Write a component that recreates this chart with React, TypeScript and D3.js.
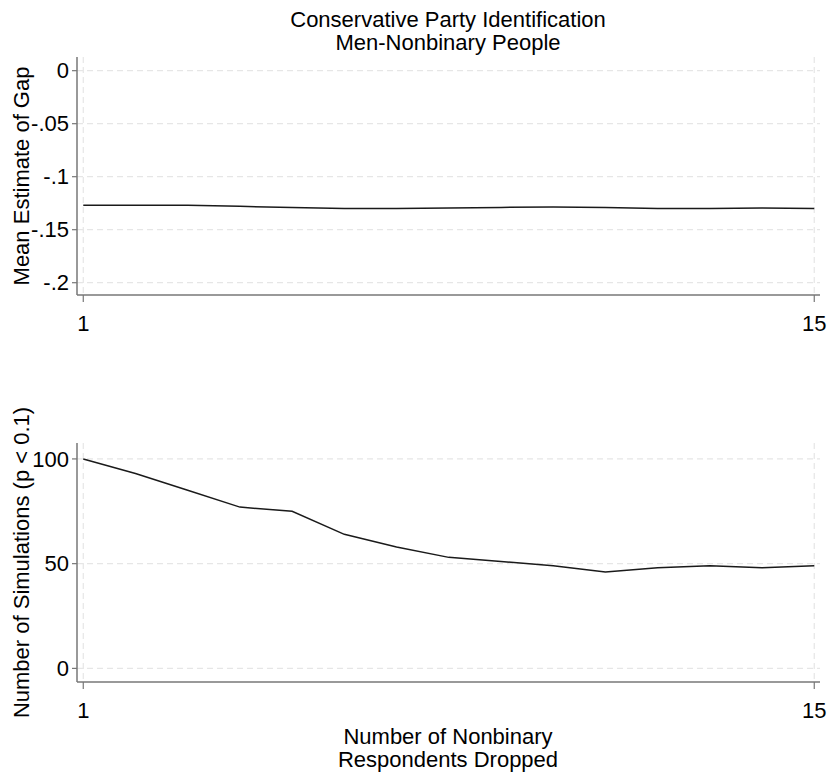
import React from "react";
import * as d3 from "d3";

// Number of nonbinary respondents dropped (x)
const dropped = [1, 2, 3, 4, 5, 6, 7, 8, 9, 10, 11, 12, 13, 14, 15];
// Mean estimate of the men-nonbinary gap
const meanGap = [
  -0.127, -0.127, -0.127, -0.128, -0.129, -0.13, -0.13, -0.1295, -0.129, -0.1285,
  -0.129, -0.13, -0.13, -0.1295, -0.13,
];
// Number of simulations with p < 0.1
const sigCount = [100, 93, 85, 77, 75, 64, 58, 53, 51, 49, 46, 48, 49, 48, 49];

const xTicks = [1, 15];
const gapTicks = [0, -0.05, -0.1, -0.15, -0.2];
const gapTickLabels = ["0", "-.05", "-.1", "-.15", "-.2"];
const countTicks = [100, 50, 0];
const countTickLabels = ["100", "50", "0"];

const W = 829;
const H = 777;
const FONT = "'Liberation Sans', Arial, sans-serif";
const FS = 22;
const AXIS = "#777777";
const GRID = "#e6e6e6";
const LINE = "#1a1a1a";

type PanelProps = {
  values: number[];
  yDomain: [number, number];
  yTicks: number[];
  yTickLabels: string[];
  top: number;
  bottom: number;
  yTitle: string;
};

const LEFT = 77;
const RIGHT = 820;

function Panel({ values, yDomain, yTicks, yTickLabels, top, bottom, yTitle }: PanelProps) {
  const x = d3.scaleLinear().domain([0.88, 15.11]).range([LEFT, RIGHT]);
  const y = d3.scaleLinear().domain(yDomain).range([bottom, top]);
  const line = d3
    .line<number>()
    .x((_, i) => x(dropped[i]))
    .y((v) => y(v));
  const mid = (top + bottom) / 2;
  return (
    <g>
      {/* horizontal grid */}
      {yTicks.map((t) => (
        <line
          key={"gy" + t}
          x1={LEFT}
          x2={RIGHT}
          y1={y(t)}
          y2={y(t)}
          stroke={GRID}
          strokeWidth={1.2}
          strokeDasharray="6,4"
        />
      ))}
      {/* vertical grid */}
      {xTicks.map((t) => (
        <line
          key={"gx" + t}
          x1={x(t)}
          x2={x(t)}
          y1={top}
          y2={bottom}
          stroke={GRID}
          strokeWidth={1.2}
          strokeDasharray="6,4"
        />
      ))}
      <path d={line(values) ?? ""} fill="none" stroke={LINE} strokeWidth={1.5} />
      {/* axes */}
      <line x1={LEFT} x2={LEFT} y1={top} y2={bottom} stroke={AXIS} strokeWidth={1.5} />
      <line x1={LEFT} x2={RIGHT} y1={bottom} y2={bottom} stroke={AXIS} strokeWidth={1.5} />
      {yTicks.map((t, i) => (
        <g key={"ty" + t}>
          <line x1={LEFT - 5} x2={LEFT} y1={y(t)} y2={y(t)} stroke={AXIS} strokeWidth={1.2} />
          <text
            x={LEFT - 8}
            y={y(t)}
            dy="0.35em"
            textAnchor="end"
            fontSize={FS}
            fontFamily={FONT}
            fill="#000"
          >
            {yTickLabels[i]}
          </text>
        </g>
      ))}
      {xTicks.map((t) => (
        <g key={"tx" + t}>
          <line x1={x(t)} x2={x(t)} y1={bottom} y2={bottom + 7} stroke={AXIS} strokeWidth={1.2} />
          <text
            x={x(t)}
            y={bottom + 36}
            textAnchor="middle"
            fontSize={FS}
            fontFamily={FONT}
            fill="#000"
          >
            {t}
          </text>
        </g>
      ))}
      <text
        transform={`translate(29,${mid}) rotate(-90)`}
        textAnchor="middle"
        fontSize={FS}
        fontFamily={FONT}
        fill="#000"
      >
        {yTitle}
      </text>
    </g>
  );
}

export default function App() {
  return (
    <div style={{ position: "absolute", left: 0, top: 0 }}>
      <svg width={W} height={H} style={{ display: "block", background: "#fff" }}>
        <rect width={W} height={H} fill="#fff" />
        <text x={448} y={27} textAnchor="middle" fontSize={FS} fontFamily={FONT} fill="#000">
          Conservative Party Identification
        </text>
        <text x={448} y={50} textAnchor="middle" fontSize={FS} fontFamily={FONT} fill="#000">
          Men-Nonbinary People
        </text>
        <Panel
          values={meanGap}
          yDomain={[-0.2116, 0.0129]}
          yTicks={gapTicks}
          yTickLabels={gapTickLabels}
          top={57}
          bottom={295}
          yTitle="Mean Estimate of Gap"
        />
        <Panel
          values={sigCount}
          yDomain={[-6.5, 107.6]}
          yTicks={countTicks}
          yTickLabels={countTickLabels}
          top={443}
          bottom={682}
          yTitle="Number of Simulations (p < 0.1)"
        />
        <text x={448} y={744} textAnchor="middle" fontSize={FS} fontFamily={FONT} fill="#000">
          Number of Nonbinary
        </text>
        <text x={448} y={767} textAnchor="middle" fontSize={FS} fontFamily={FONT} fill="#000">
          Respondents Dropped
        </text>
      </svg>
    </div>
  );
}
